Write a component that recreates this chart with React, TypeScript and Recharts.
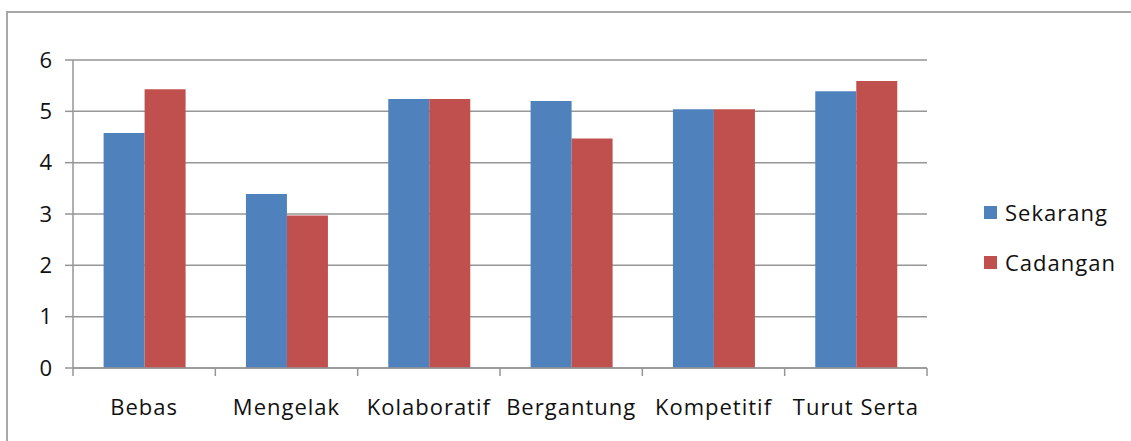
import React from 'react';
import { BarChart, Bar, XAxis, YAxis, CartesianGrid, Legend } from 'recharts';

const categories = ['Bebas', 'Mengelak', 'Kolaboratif', 'Bergantung', 'Kompetitif', 'Turut Serta'];
const sekarang = [4.58, 3.39, 5.24, 5.2, 5.04, 5.39];
const cadangan = [5.43, 2.97, 5.24, 4.47, 5.04, 5.59];
const yTicks = [0, 1, 2, 3, 4, 5, 6];

const chartData = categories.map((name, i) => ({
  name,
  sekarang: sekarang[i],
  cadangan: cadangan[i],
}));

const FONT = '"Open Sans", "Noto Sans", sans-serif';
const AXIS = '#969696';

// category tick: label at centre, tick marks on band boundaries
const CategoryTick = (props: any) => {
  const { x, y, payload, index } = props;
  const half = payload.offset || 0;
  const last = index === categories.length - 1;
  return (
    <g>
      <line x1={x - half} y1={y} x2={x - half} y2={y + 8} stroke={AXIS} strokeWidth={1.5} />
      {last && <line x1={x + half} y1={y} x2={x + half} y2={y + 8} stroke={AXIS} strokeWidth={1.5} />}
      <text x={x} y={y + 47} textAnchor="middle" fill="#111" fontSize={22} fontFamily={FONT} letterSpacing={1}>
        {payload.value}
      </text>
    </g>
  );
};

const LegendContent = () => {
  const items = [
    { label: 'Sekarang', color: '#4F81BD' },
    { label: 'Cadangan', color: '#C0504D' },
  ];
  return (
    <div style={{ fontFamily: FONT, fontSize: 22, letterSpacing: 1, color: '#111' }}>
      {items.map((it) => (
        <div key={it.label} style={{ display: 'flex', alignItems: 'center', height: 50 }}>
          <span style={{ display: 'inline-block', width: 13, height: 13, background: it.color, marginRight: 8 }} />
          <span>{it.label}</span>
        </div>
      ))}
    </div>
  );
};

export default function App() {
  return (
    <div style={{ position: 'fixed', left: 0, top: 0, width: 1131, height: 441, overflow: 'hidden', background: '#fff' }}>
      <div
        style={{
          position: 'absolute',
          left: 6,
          top: 11,
          width: 1200,
          height: 500,
          border: '2px solid #a8a8a8',
        }}
      />
      <div style={{ position: 'absolute', left: 0, top: 0 }}>
        <BarChart
          width={1131}
          height={441}
          data={chartData}
          margin={{ top: 60, right: 204, bottom: 13, left: 13 }}
          barCategoryGap="21.5%"
          barGap={0}
        >
          <CartesianGrid vertical={false} stroke={AXIS} strokeWidth={1.5} />
          <XAxis
            dataKey="name"
            height={60}
            tickLine={false}
            tickSize={0}
            tickMargin={0}
            axisLine={{ stroke: AXIS, strokeWidth: 1.5 }}
            tick={<CategoryTick />}
            interval={0}
          />
          <YAxis
            width={60}
            domain={[0, 6]}
            ticks={yTicks}
            tickSize={8}
            tickMargin={13}
            axisLine={{ stroke: AXIS, strokeWidth: 1.5 }}
            tickLine={{ stroke: AXIS, strokeWidth: 1.5 }}
            tick={{ fill: '#111', fontSize: 22, fontFamily: FONT }}
          />
          <Legend
            layout="vertical"
            align="center"
            verticalAlign="middle"
            content={<LegendContent />}
            wrapperStyle={{ left: 984, top: 187, width: 'auto' }}
          />
          <Bar dataKey="sekarang" name="Sekarang" fill="#4F81BD" isAnimationActive={false} />
          <Bar dataKey="cadangan" name="Cadangan" fill="#C0504D" isAnimationActive={false} />
        </BarChart>
      </div>
    </div>
  );
}
